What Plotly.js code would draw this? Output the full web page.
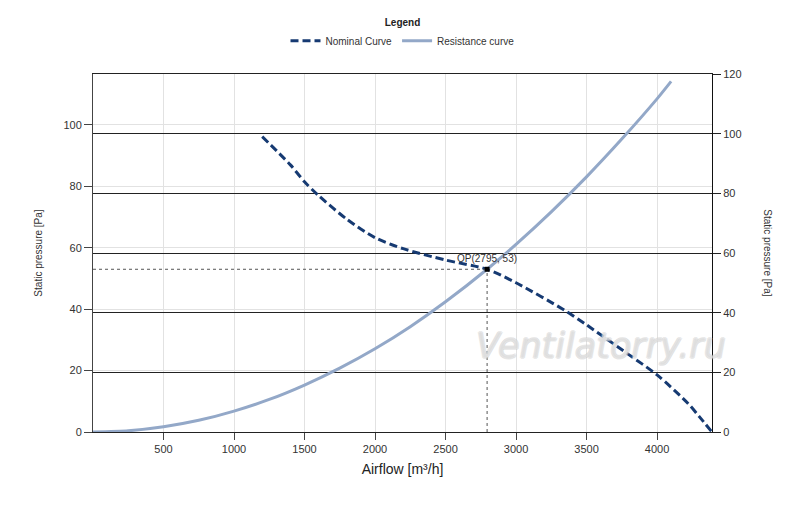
<!DOCTYPE html>
<html>
<head>
<meta charset="utf-8">
<script src="https://cdn.plot.ly/plotly-3.0.1.min.js"></script>
<style>html,body{margin:0;padding:0;background:#fff;}#chart{width:800px;height:507px;}</style>
</head>
<body>
<div id="chart"></div>
<script>
// Nominal fan curve (airflow m³/h, static pressure Pa)
const nominalX = [1200, 1400, 1500, 1600, 1800, 2000, 2200, 2500, 2795, 3000, 3350, 3500, 3800, 4000, 4220, 4300, 4390];
const nominalY = [96.2, 87.0, 81.5, 77.0, 69.3, 63.3, 59.7, 56.0, 53.0, 48.6, 39.5, 34.9, 25.2, 18.6, 9.3, 5.0, 0];
// System resistance curve
const resistX = [0, 250, 500, 750, 1000, 1250, 1500, 1750, 2000, 2250, 2500, 2795, 3000, 3250, 3500, 3750, 4000, 4100];
const resistY = [0, 0.4, 1.7, 3.8, 6.8, 10.6, 15.3, 20.8, 27.1, 34.3, 42.4, 53.0, 61.1, 71.7, 83.1, 95.4, 108.5, 114.2];
// Operating point
const opX = 2795;
const opY = 53;
const xTicks = [500, 1000, 1500, 2000, 2500, 3000, 3500, 4000];
const yTicks = [0, 20, 40, 60, 80, 100];
const y2Ticks = [0, 20, 40, 60, 80, 100, 120];

const font = "Liberation Sans, Arial, sans-serif";

const traces = [
  {
    x: nominalX, y: nominalY, type: 'scatter', mode: 'lines', name: 'Nominal Curve',
    line: {color: '#163a72', width: 3, dash: '8px,4px', shape: 'spline', smoothing: 0.8}
  },
  {
    x: resistX, y: resistY, type: 'scatter', mode: 'lines', name: 'Resistance curve',
    line: {color: '#93a8c8', width: 3, shape: 'spline', smoothing: 0.6}
  },
  {
    x: [0, opX], y: [opY, opY], type: 'scatter', mode: 'lines', showlegend: false, hoverinfo: 'skip',
    line: {color: '#555', width: 1, dash: 'dot'}
  },
  {
    x: [opX, opX], y: [0, opY], type: 'scatter', mode: 'lines', showlegend: false, hoverinfo: 'skip',
    line: {color: '#555', width: 1, dash: 'dot'}
  },
  {
    x: [opX], y: [opY], type: 'scatter', mode: 'markers', showlegend: false,
    marker: {symbol: 'square', size: 5, color: '#000'}
  },
  {
    x: [0, 4390], y: [0, 0], type: 'scatter', mode: 'lines', yaxis: 'y2', showlegend: false,
    hoverinfo: 'skip', line: {width: 0}, opacity: 0
  }
];

const layout = {
  width: 800, height: 507,
  margin: {l: 93, r: 88, t: 74, b: 75},
  paper_bgcolor: '#fff', plot_bgcolor: '#fff',
  font: {family: font, size: 11, color: '#333'},
  showlegend: true,
  legend: {
    orientation: 'h', x: 0.5, xanchor: 'center', y: 1.17, yanchor: 'top',
    font: {family: font, size: 10, color: '#333'},
    title: {text: '<b>Legend</b>', side: 'top center', font: {family: font, size: 10, color: '#222'}},
    itemwidth: 30, tracegroupgap: 0
  },
  xaxis: {
    range: [0, 4390], tickvals: xTicks, ticks: 'outside', ticklen: 7, tickcolor: '#444',
    showline: true, linecolor: '#222', linewidth: 1, mirror: true,
    showgrid: true, gridcolor: '#e2e2e2', zeroline: false,
    tickfont: {family: font, size: 11, color: '#333'},
    title: {text: 'Airflow [m³/h]', font: {family: font, size: 14, color: '#222'}, standoff: 9}
  },
  yaxis: {
    range: [0, 116.6], tickvals: yTicks, ticks: 'outside', ticklen: 8, tickcolor: '#444',
    showline: true, linecolor: '#444', linewidth: 1,
    showgrid: true, gridcolor: '#e2e2e2', zeroline: false,
    tickfont: {family: font, size: 11, color: '#333'},
    title: {text: 'Static pressure [Pa]', font: {family: font, size: 10, color: '#333'}, standoff: 18}
  },
  yaxis2: {
    range: [0, 120], tickvals: y2Ticks, overlaying: 'y', side: 'right',
    ticks: 'outside', ticklen: 8, tickcolor: '#222',
    showline: true, linecolor: '#111', linewidth: 1,
    showgrid: true, gridcolor: '#222', gridwidth: 1, zeroline: false,
    tickfont: {family: font, size: 11, color: '#333'}
  },
  annotations: [
    {
      x: opX, y: opY, xref: 'x', yref: 'y', text: 'OP(2795, 53)', showarrow: false,
      yshift: 11, font: {family: font, size: 10, color: '#333'}
    },
    {
      xref: 'paper', yref: 'paper', x: 1.09, y: 0.5, xanchor: 'center', yanchor: 'middle',
      text: 'Static pressure [Pa]', textangle: 90,
      showarrow: false, font: {family: font, size: 10, color: '#333'}
    },
    {
      xref: 'paper', yref: 'paper', x: 0.821, y: 0.24, xanchor: 'center', yanchor: 'middle',
      text: 'Ventilatorry.ru', showarrow: false,
      font: {family: 'DejaVu Sans, sans-serif', size: 35, color: 'rgba(255,255,255,0.35)', style: 'italic',
             shadow: '1px 0 0 #c4c4c4, -1px 0 0 #c4c4c4, 0 1px 0 #c4c4c4, 0 -1px 0 #c4c4c4'}
    }
  ]
};

Plotly.newPlot('chart', traces, layout, {displayModeBar: false, staticPlot: true});
</script>
</body>
</html>
